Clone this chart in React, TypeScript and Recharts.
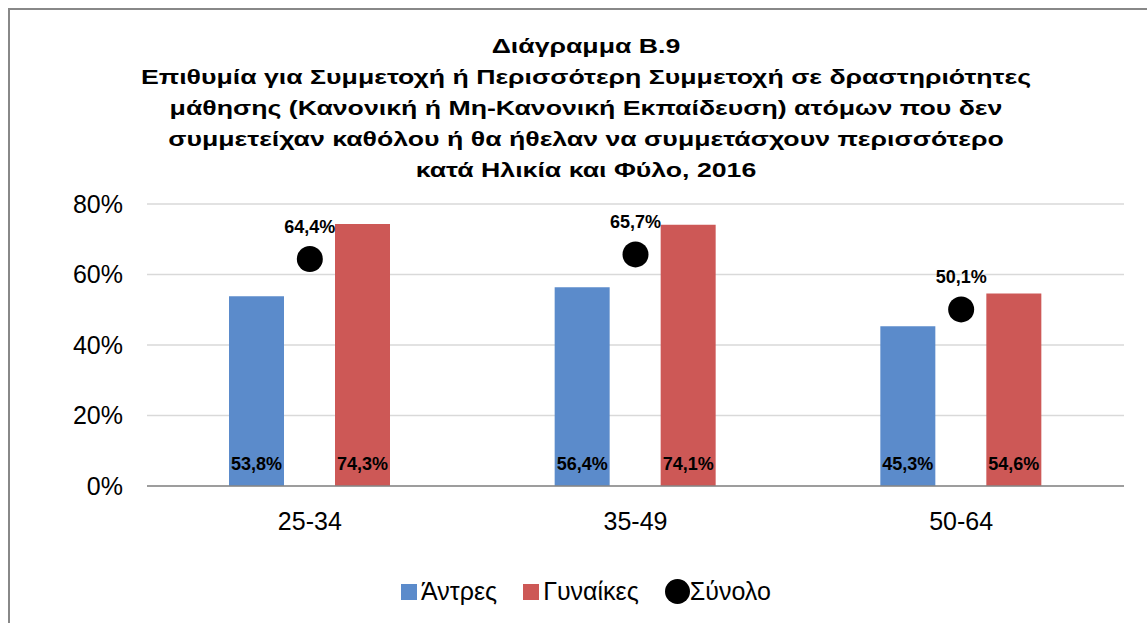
import { ComposedChart, Bar, Line, XAxis, YAxis, CartesianGrid, Legend, LabelList } from 'recharts';

const ageGroups = ['25-34', '35-49', '50-64'];
const men = [53.8, 56.4, 45.3];
const women = [74.3, 74.1, 54.6];
const total = [64.4, 65.7, 50.1];
const yTicks = [0, 20, 40, 60, 80];
const titleLines = [
  'Διάγραμμα Β.9',
  'Επιθυμία για Συμμετοχή ή Περισσότερη Συμμετοχή σε δραστηριότητες',
  'μάθησης (Κανονική ή Μη-Κανονική Εκπαίδευση) ατόμων που δεν',
  'συμμετείχαν καθόλου ή θα ήθελαν να συμμετάσχουν περισσότερο',
  'κατά Ηλικία και Φύλο, 2016',
];

const data = ageGroups.map((group, i) => ({
  group,
  men: men[i],
  women: women[i],
  total: total[i],
}));

const FONT = '"Liberation Sans", Arial, sans-serif';
const colors: Record<string, string> = { men: '#5B8BCB', women: '#CD5856', total: '#000000' };

const pct = (v: any) => Number(v).toFixed(1).replace('.', ',') + '%';

const renderLegend = (props: any) => {
  const items = props.payload || [];
  return (
    <div style={{ display: 'flex', justifyContent: 'center', alignItems: 'center', fontFamily: FONT, fontSize: 25, color: '#000' }}>
      {items.map((it: any, i: number) => (
        <div key={i} style={{ display: 'flex', alignItems: 'center', marginRight: i < items.length - 1 ? 26 : 0 }}>
          {it.type === 'circle' ? (
            <span style={{ width: 25, height: 25, borderRadius: '50%', background: colors[it.dataKey], display: 'inline-block' }} />
          ) : (
            <span style={{ width: 16, height: 16, background: colors[it.dataKey], display: 'inline-block', marginRight: 4 }} />
          )}
          <span>{it.value}</span>
        </div>
      ))}
    </div>
  );
};

export default function App() {
  return (
    <div style={{ position: 'absolute', left: 0, top: 0, width: 1147, height: 623, overflow: 'hidden', background: '#fff', fontFamily: FONT }}>
      <div style={{ position: 'absolute', left: 8, top: 8, width: 1200, height: 700, borderLeft: '2px solid #888', borderTop: '2px solid #888' }} />
      <div style={{ position: 'absolute', left: 0, top: 30, width: 1172, textAlign: 'center', fontWeight: 'bold', fontSize: 21, lineHeight: '31px', color: '#000', transform: 'scaleX(1.27)', transformOrigin: '586px 0' }}>
        {titleLines.map((t, i) => (
          <div key={i}>{t}</div>
        ))}
      </div>
      <ComposedChart width={1147} height={623} data={data} margin={{ top: 204, right: 23, left: 0, bottom: 67 }} barSize={55} barGap={51}>
        <CartesianGrid vertical={false} stroke="#d9d9d9" strokeWidth={1.5} />
        <XAxis dataKey="group" axisLine={{ stroke: '#868686', strokeWidth: 1.5 }} tickLine={false} tickSize={0} tickMargin={26} height={40} tick={{ fontSize: 25, fill: '#000', fontFamily: FONT }} />
        <YAxis domain={[0, 80]} ticks={yTicks} tickFormatter={(v) => v + '%'} axisLine={false} tickLine={false} tickSize={0} tickMargin={24} width={147} tick={{ fontSize: 25, fill: '#000', fontFamily: FONT }} />
        <Legend content={renderLegend} wrapperStyle={{ left: 0, width: 1172, top: 577, height: 30 }} />
        <Bar dataKey="men" name="Άντρες" fill={colors.men} legendType="square" isAnimationActive={false}>
          <LabelList dataKey="men" position="insideBottom" offset={16} formatter={pct} style={{ fontSize: 18, fontWeight: 'bold', fill: '#000', fontFamily: FONT }} />
        </Bar>
        <Bar dataKey="women" name="Γυναίκες" fill={colors.women} legendType="square" isAnimationActive={false}>
          <LabelList dataKey="women" position="insideBottom" offset={16} formatter={pct} style={{ fontSize: 18, fontWeight: 'bold', fill: '#000', fontFamily: FONT }} />
        </Bar>
        <Line dataKey="total" name="Σύνολο" stroke="none" legendType="circle" dot={{ r: 13, fill: colors.total, stroke: 'none' }} activeDot={false} isAnimationActive={false}>
          <LabelList dataKey="total" position="top" offset={26} formatter={pct} style={{ fontSize: 18, fontWeight: 'bold', fill: '#000', fontFamily: FONT }} />
        </Line>
      </ComposedChart>
    </div>
  );
}
